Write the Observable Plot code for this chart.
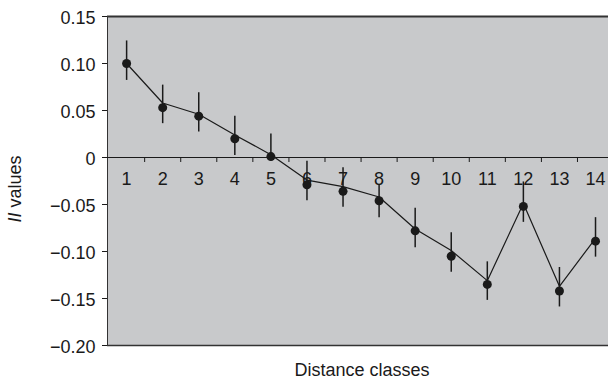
<!DOCTYPE html>
<html>
<head>
<meta charset="utf-8">
<script src="https://cdn.jsdelivr.net/npm/d3@7"></script>
<script src="https://cdn.jsdelivr.net/npm/@observablehq/plot@0.6"></script>
<style>
  html, body { margin: 0; padding: 0; background: #fff; }
</style>
</head>
<body>
<div id="chart"></div>
<script>
// Distance classes
const classes = [1, 2, 3, 4, 5, 6, 7, 8, 9, 10, 11, 12, 13, 14];
// Observed II values (dots)
const observed = [0.100, 0.053, 0.044, 0.020, 0.001, -0.029, -0.036, -0.046, -0.078, -0.105, -0.135, -0.052, -0.142, -0.089];
// Error bar ends
const upper = [0.124, 0.077, 0.069, 0.044, 0.025, -0.004, -0.011, -0.029, -0.054, -0.080, -0.111, -0.026, -0.117, -0.064];
const lower = [0.082, 0.036, 0.027, 0.002, -0.004, -0.046, -0.053, -0.064, -0.096, -0.122, -0.152, -0.069, -0.159, -0.106];
// Connecting line vertices
const fitted = [0.100, 0.058, 0.046, 0.024, 0.003, -0.024, -0.031, -0.042, -0.076, -0.099, -0.131, -0.049, -0.137, -0.086];
// Y tick values
const yTicks = [0.15, 0.10, 0.05, 0, -0.05, -0.10, -0.15, -0.20];

const rows = classes.map((c, i) => ({cls: c, obs: observed[i], hi: upper[i], lo: lower[i], fit: fitted[i]}));
const boundaries = classes.slice(0, -1).map(c => c + 0.5);
const yTop = d3.max(yTicks), yBottom = d3.min(yTicks);
const xDomain = [0.47, 14.36];

const fmt = d => d === 0 ? "0" : d.toFixed(2).replace("-", "\u2212");
const ink = "#1a1a1a";
const tickDown = {draw(ctx) { ctx.moveTo(0, 0); ctx.lineTo(0, 4.5); }};

const chart = Plot.plot({
  width: 608,
  height: 381,
  marginLeft: 107,
  marginRight: 0,
  marginTop: 16,
  marginBottom: 36,
  style: {fontFamily: "'Liberation Sans', Arial, sans-serif", fontSize: "18px", color: ink, background: "#fff"},
  x: {domain: xDomain, axis: null},
  y: {domain: [yBottom, yTop], ticks: yTicks, tickFormat: fmt, tickSize: 5, tickPadding: 7, label: null},
  marks: [
    Plot.frame({fill: "#c8c9cb", stroke: null}),
    Plot.ruleY([yTop], {stroke: "#333", strokeWidth: 2}),
    Plot.ruleY([yBottom], {stroke: "#333", strokeWidth: 1.5}),
    Plot.ruleX([xDomain[0]], {stroke: "#333", strokeWidth: 1}),
    Plot.ruleY([0], {stroke: ink, strokeWidth: 1}),
    Plot.dot(boundaries, {x: d => d, y: 0, symbol: tickDown, r: 4, fill: "none", stroke: ink, strokeWidth: 1}),
    Plot.text(classes, {x: d => d, y: 0, text: d => String(d), dy: 22, fontSize: 18, fill: ink}),
    Plot.line(rows, {x: "cls", y: "fit", stroke: ink, strokeWidth: 1.2}),
    Plot.ruleX(rows, {x: "cls", y1: "lo", y2: "hi", stroke: ink, strokeWidth: 1.5}),
    Plot.dot(rows, {x: "cls", y: "obs", r: 4.5, fill: ink, stroke: null}),
    Plot.text(["Distance classes"], {frameAnchor: "bottom", text: d => d, dy: 30, dx: 4, fontSize: 18, fill: ink})
  ]
});

// Nudge y tick labels slightly downward, as in the reference
d3.select(chart).selectAll('g[aria-label="y-axis tick label"], g[aria-label="y-axis"] text')
  .attr("dy", null)
  .each(function() {
    const el = d3.select(this);
    const tr = el.attr("transform") || "";
    el.attr("transform", tr + " translate(0,2)");
  });

// Y-axis title with italic symbol
const svg = d3.select(chart);
const t = svg.append("text")
  .attr("transform", "translate(21,189) rotate(-90)")
  .attr("text-anchor", "middle")
  .attr("font-size", 18)
  .attr("fill", ink);
t.append("tspan").attr("font-style", "italic").text("II");
t.append("tspan").text(" values");

document.getElementById("chart").appendChild(chart);
</script>
</body>
</html>
